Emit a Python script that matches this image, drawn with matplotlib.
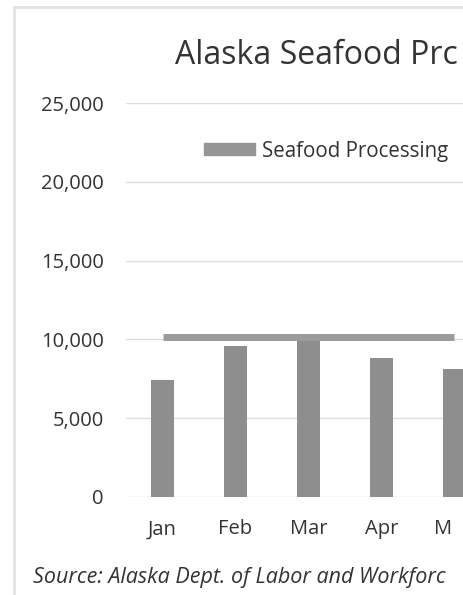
import matplotlib
matplotlib.use("Agg")
import matplotlib.pyplot as plt
from matplotlib.patches import Rectangle, Patch
from matplotlib.transforms import ScaledTranslation

# visible part of the chart (the reference is a crop, texts cut at right)
months = ["Jan", "Feb", "Mar", "Apr", "M"]
employment = [7400, 9550, 10200, 8800, 8100]
avg_line = [10150, 10150, 10150, 10150, 10150]
y_ticks = [0, 5000, 10000, 15000, 20000, 25000]
title = "Alaska Seafood Prc"
source = "Source: Alaska Dept. of Labor and Workforc"

plt.rcParams['font.family'] = ['Open Sans', 'DejaVu Sans']

W, H = 463, 595
fig = plt.figure(figsize=(W / 100, H / 100), dpi=100)
fig.patch.set_facecolor("white")

# faint border of the scanned chart box
fig.patches.append(Rectangle((14 / W, -0.1), 1.2, 1 - 7 / H + 0.1,
                             transform=fig.transFigure, fill=False,
                             edgecolor="#e2e2e2", lw=2))

# axes run past the right edge of the picture on purpose
ax = fig.add_axes([126 / W, 98 / H, 365 / W, 394 / H])
x = range(len(months))
ax.bar(x, employment, width=0.32, color="#8e8e8e", zorder=2)
ax.plot(x, avg_line, color="#9b9b9b", lw=5, solid_capstyle="butt", zorder=3)

ax.set_xlim(-0.5, len(months) - 0.5)
ax.set_ylim(0, 25000)
ax.set_yticks(y_ticks)
ax.set_yticklabels([f"{v:,}" for v in y_ticks])
ax.set_xticks(list(x))
ax.set_xticklabels(months)
ax.yaxis.grid(True, color="#dedede", lw=1)
ax.set_axisbelow(True)
for s in ax.spines.values():
    s.set_visible(False)
ax.tick_params(axis="both", length=0, labelsize=14.5, colors="#333333")
ax.tick_params(axis="y", pad=16)
ax.tick_params(axis="x", pad=16)
# last label is only partly visible ("May" cut), nudge the "M" left
last = ax.get_xticklabels()[-1]
last.set_transform(last.get_transform() +
                   ScaledTranslation(-0.115, 0, fig.dpi_scale_trans))

fig.text(175 / W, 1 - 64 / H, title,
         fontsize=23, color="#333333", va="baseline", ha="left")

ax.legend([Patch(color="#959595")], ["Seafood Processing"],
          loc="center left", bbox_to_anchor=(204 / W, 1 - 151 / H),
          bbox_transform=fig.transFigure, frameon=False, fontsize=14.8,
          handlelength=2.5, handleheight=0.5, handletextpad=0.33,
          borderpad=0, borderaxespad=0, labelcolor="#333333")

fig.text(33 / W, 1 - 583 / H, source,
         fontsize=15.5, style="italic", color="#333333", va="baseline")

fig.savefig("out.png", dpi=100)
